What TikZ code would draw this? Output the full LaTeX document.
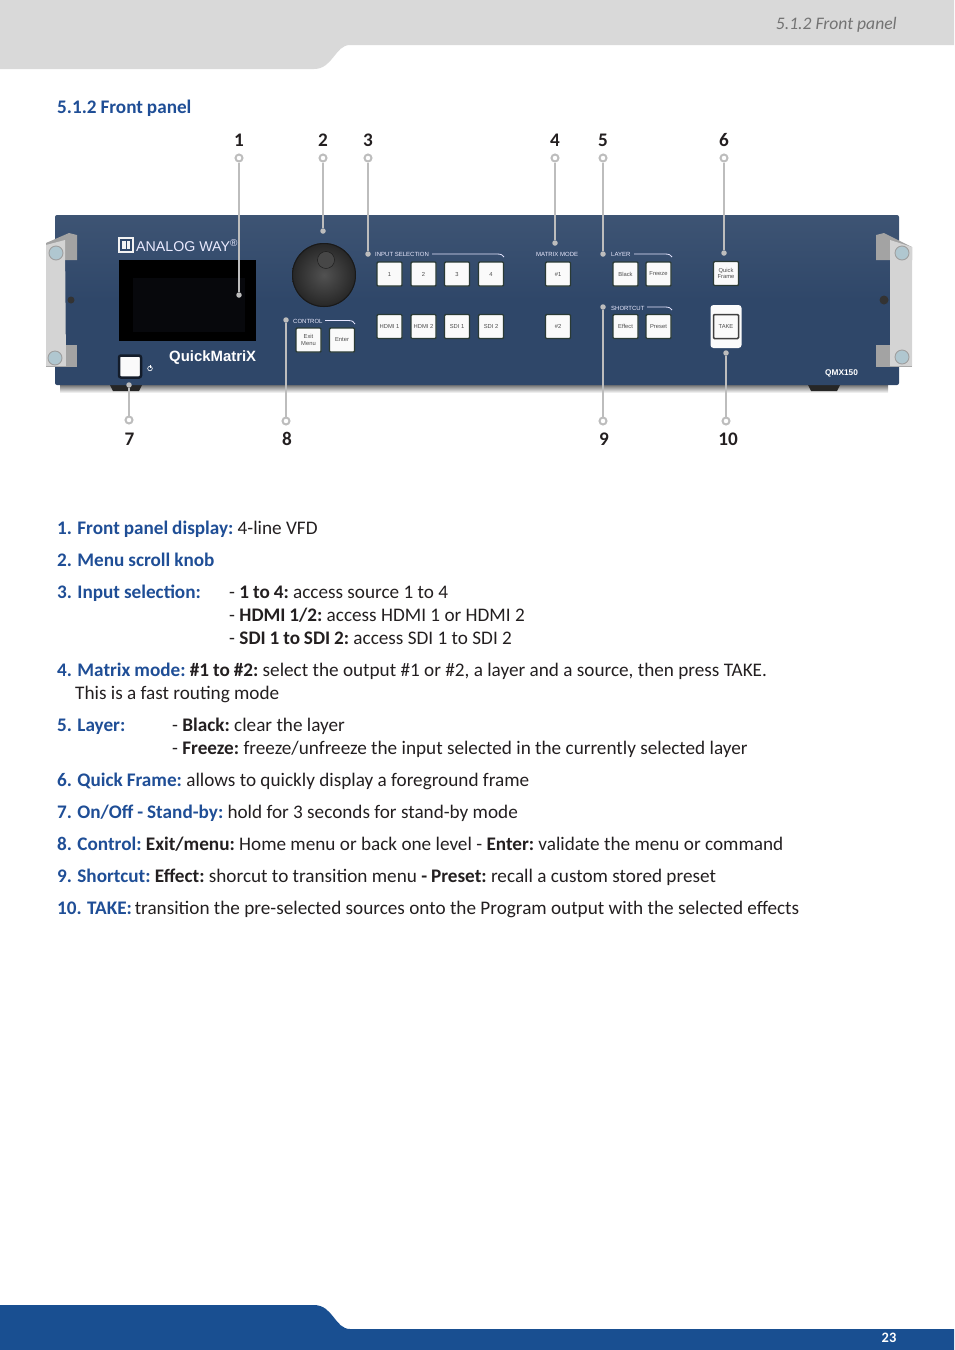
\documentclass[tikz,border=0pt]{standalone}
\usepackage{fontspec}
\setmainfont{Carlito}[BoldFeatures={WordSpace=0.9}]
\newfontfamily\panelfont{Liberation Sans}
\usetikzlibrary{calc}
\definecolor{hblue}{HTML}{1F4E96}
\definecolor{foot}{HTML}{194F91}
\definecolor{hgray}{HTML}{D9D9D9}
\definecolor{chassis}{HTML}{2F4769}
\definecolor{lead}{HTML}{BDBDBD}
\definecolor{txt}{HTML}{231F20}
\definecolor{btnrim}{HTML}{2A3A35}
\definecolor{facegray}{HTML}{D4D4D4}
\definecolor{sidegray}{HTML}{A3A3A3}
\definecolor{vfd}{HTML}{07080C}
\tikzset{
  x=1pt,y=-1pt,
  body/.style={anchor=base west,inner sep=0,font=\fontsize{19.2}{21}\selectfont,text=txt},
  num/.style={anchor=base,inner sep=0,font=\fontsize{19.2}{21}\selectfont\bfseries,text=txt},
  ring/.style={circle,draw=lead,line width=2pt,fill=white,minimum size=7pt,inner sep=0},
  dot/.style={circle,fill=lead,minimum size=5.5pt,inner sep=0},
  leadline/.style={draw=lead,line width=2pt},
  btn/.style={draw=btnrim,line width=1.4pt,fill=white!96!gray,rounded corners=1pt,minimum width=25pt,minimum height=24pt,inner sep=0,align=center,font=\panelfont\fontsize{5.8}{6.8}\selectfont,text=black!70},
  tag/.style={anchor=base west,inner sep=0,font=\panelfont\fontsize{6}{6}\selectfont,text=white!92!blue},
  tagline/.style={draw=white!90!blue,line width=0.8pt},
  screw/.style={circle,draw=gray!75,line width=0.9pt,fill=white!72!cyan!60!gray,minimum size=14pt,inner sep=0},
}
\newcommand{\lb}[1]{{\color{hblue}\bfseries #1}\kern-1.5pt\relax}
\newcommand{\bb}[1]{{\bfseries #1}\kern-1.5pt\relax}
\begin{document}
\begin{tikzpicture}
\useasboundingbox (0,0) rectangle (954,1350);
% page bands
\fill[hgray] (0,0) -- (954,0) -- (954,45) -- (350,45) .. controls (335,45) and (333,69) .. (314,69) -- (0,69) -- cycle;
\fill[foot] (0,1305) -- (314,1305) .. controls (333,1305) and (335,1329) .. (350,1329) -- (954,1329) -- (954,1350) -- (0,1350) -- cycle;
\node (hdr) [anchor=base east,inner sep=0,font=\fontsize{17.6}{19}\selectfont\itshape,text=black!55] at (897,29) {5.1.2 Front panel};
\node (pg) [inner sep=0,font=\fontsize{14.4}{16}\selectfont\bfseries,text=white] at (889,1338) {23};
\node (title) [body,font=\fontsize{19.2}{21}\selectfont\bfseries,text=hblue] at (57,113) {5.1.2 Front panel};

% shadow and feet
\shade[top color=black!55,bottom color=white] (60,385) rectangle (888,393);
\fill[black!85] (110,385) -- (142,385) -- (139,391) -- (113,391) -- cycle;
\fill[black!85] (808,385) -- (840,385) -- (837,391) -- (811,391) -- cycle;
% chassis
\shade[top color=chassis!93!white,bottom color=chassis,middle color=chassis,rounded corners=2pt] (55,215) rectangle (899,385);
% left ear
\fill[sidegray] (46,243) -- (69,233) -- (77,235) -- (77,260) -- (46,260) -- cycle;
\fill[sidegray] (46,345) -- (77,345) -- (77,367) -- (46,367) -- cycle;
\fill[facegray] (46,245) -- (65,240) -- (66,366) -- (46,366) -- cycle;
\node (sl1) [screw] at (56,253) {};
\node (sl2) [screw] at (55,358) {};
% right ear
\fill[sidegray] (912,247) -- (884,233) -- (876,235) -- (876,260) -- (912,260) -- cycle;
\fill[sidegray] (876,345) -- (912,345) -- (912,367) -- (876,367) -- cycle;
\fill[facegray] (890,240) -- (912,247) -- (912,366) -- (890,366) -- cycle;
\node (sr1) [screw] at (902,253) {};
\node (sr2) [screw] at (902,357) {};
\fill[black!80] (71,300) circle (3.5);
\fill[black!80] (884,300) circle (4.5);
% display
\node (display) [fill=black,minimum width=137pt,minimum height=81pt,inner sep=0] at (187.5,300.5) {};
\fill[vfd] (133,278) rectangle (245,332);
% logo
\node (logo) [fill=white!90!gray,minimum width=16pt,minimum height=16pt,inner sep=0] at (126,245) {};
\fill[chassis] (120,239) rectangle (132,251);
\fill[white!90!gray] (122,241) rectangle (130,249);
\fill[chassis] (125.5,241) rectangle (126.5,249);
\node (brand) [anchor=base west,inner sep=0,font=\panelfont\fontsize{14.2}{16}\selectfont,text=white!92!blue] at (136,251.5) {ANALOG WAY\textsuperscript{®}};
\node (qm) [anchor=base west,inner sep=0,font=\panelfont\bfseries\fontsize{14.9}{16}\selectfont,text=white] at (169,361) {QuickMatriX};
\node (qmx) [anchor=base west,inner sep=0,font=\panelfont\bfseries\fontsize{8.3}{9}\selectfont,text=white] at (825,375) {QMX150};
% knob
\shade[inner color=black!68,outer color=black!85] (324,275) circle (32);
\draw[black!90,line width=1pt] (324,275) circle (31.5);
\draw[black!90,fill=black!72] (326,260) circle (8.5);
% power
\node (power) [draw=black!60!chassis,line width=2.5pt,fill=white!96!gray,rounded corners=2pt,minimum width=22pt,minimum height=22pt,inner sep=0] at (130,366.5) {};
\draw[white,line width=0.6pt] (150,368.5) circle (2.3);
\draw[white,line width=0.6pt] (150,365) -- (150,368);
% buttons
\node (b1) [btn] at (389.5,274) {1};
\node (b2) [btn] at (423.5,274) {2};
\node (b3) [btn] at (457,274) {3};
\node (b4) [btn] at (491,274) {4};
\node (h1) [btn] at (389.5,326.5) {HDMI 1};
\node (h2) [btn] at (423.5,326.5) {HDMI 2};
\node (s1) [btn] at (457,326.5) {SDI 1};
\node (s2) [btn] at (491,326.5) {SDI 2};
\node (m1) [btn] at (558,274) {\#1};
\node (m2) [btn] at (558,326.5) {\#2};
\node (black) [btn] at (625.5,274) {Black};
\node (freeze) [btn] at (658.5,274) {Freeze};
\node (effect) [btn] at (625.5,326.5) {Effect};
\node (preset) [btn] at (658.5,326.5) {Preset};
\node (exit) [btn] at (308.5,340) {Exit\\Menu};
\node (enter) [btn] at (342,340) {Enter};
\node (qf) [btn] at (726,273.5) {Quick\\Frame};
\node (takeback) [fill=white!97!gray,rounded corners=3pt,minimum width=31pt,minimum height=43pt,inner sep=0] at (726,326.5) {};
\node (take) [btn,draw=black!75,line width=1.5pt] at (726,326.5) {TAKE};
% group tags
\node (tinput) [tag] at (375,256.5) {INPUT SELECTION};
\draw[tagline] (432,254) -- (497,254) .. controls (501,254) and (503,255) .. (504,257);
\node (tmatrix) [tag] at (536,256.5) {MATRIX MODE};
\node (tlayer) [tag] at (611,256.5) {LAYER};
\draw[tagline] (634,254) -- (665,254) .. controls (669,254) and (671,255) .. (672,257);
\node (tshort) [tag] at (611,310) {SHORTCUT};
\draw[tagline] (647,307) -- (665,307) .. controls (669,307) and (671,308) .. (672,310);
\node (tctrl) [tag] at (293,323) {CONTROL};
\draw[tagline] (325,320.5) -- (348,320.5) .. controls (352,320.5) and (354,321.5) .. (355,324);

% leaders
\foreach \n/\x/\ry/\dy/\lx/\ly in {1/239/158/295/239/146.5,2/323/158/231/323/146.5,3/368/158/254/368/146.5,4/555/158/243/555/146.5,5/603/158/254/603/146.5,6/724/158/253/724/146.5,7/129/420/385/129.5/445,8/286/421/320/287/445,9/603/421/307/604/445,10/726/421/353/728/445}{
  \node (ring\n) [ring] at (\x,\ry) {};
  \node (dot\n) [dot] at (\x,\dy) {};
  \draw[leadline] (ring\n) -- (dot\n);
  \node (num\n) [num] at (\lx,\ly) {\n};
}
% text
\node (t1) [body] at (57,534) {\lb{1. Front panel display:} 4-line VFD};
\node (t2) [body] at (57,566) {\lb{2. Menu scroll knob}};
\node (t3) [body] at (57,598) {\lb{3. Input selection:}};
\node (t3a) [body] at (229,598) {- \bb{1 to 4:} access source 1 to 4};
\node (t3b) [body] at (229,621) {- \bb{HDMI 1/2:} access HDMI 1 or HDMI 2};
\node (t3c) [body] at (229,644) {- \bb{SDI 1 to SDI 2:} access SDI 1 to SDI 2};
\node (t4) [body] at (57,676) {\lb{4. Matrix mode:} \bb{\#1 to \#2:} select the output \#1 or \#2, a layer and a source, then press TAKE.};
\node (t4b) [body] at (75,699) {This is a fast routing mode};
\node (t5) [body] at (57,731) {\lb{5. Layer:}};
\node (t5a) [body] at (172,731) {- \bb{Black:} clear the layer};
\node (t5b) [body] at (172,754) {- \bb{Freeze:} freeze/unfreeze the input selected in the currently selected layer};
\node (t6) [body] at (57,786) {\lb{6. Quick Frame:} allows to quickly display a foreground frame};
\node (t7) [body] at (57,818) {\lb{7. On/Off - Stand-by:} hold for 3 seconds for stand-by mode};
\node (t8) [body] at (57,850) {\lb{8. Control:} \bb{Exit/menu:} Home menu or back one level - \bb{Enter:} validate the menu or command};
\node (t9) [body] at (57,882) {\lb{9. Shortcut:} \bb{Effect:} shorcut to transition menu \bb{- Preset:} recall a custom stored preset};
\node (t10) [body] at (57,914) {\lb{10. TAKE:} transition the pre-selected sources onto the Program output with the selected effects};
\end{tikzpicture}
\end{document}
